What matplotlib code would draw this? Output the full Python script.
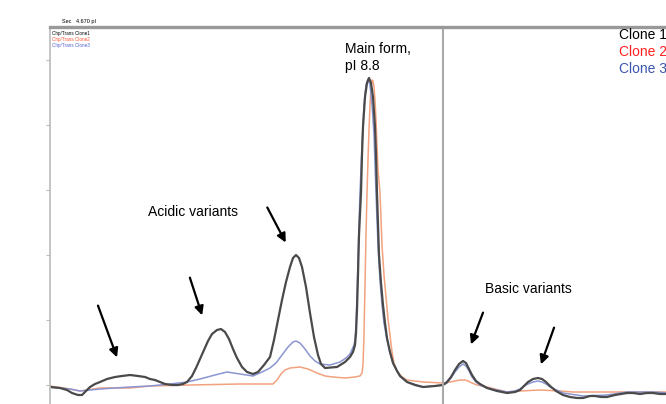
import matplotlib.pyplot as plt

plt.rcParams['font.family'] = ['Liberation Sans', 'DejaVu Sans']

# migration position (arbitrary units) and signal for each clone
clone1_x = [0, 10, 17, 22, 28, 32, 35, 40, 45, 50, 57, 65, 72, 80, 88, 95, 100, 105, 110, 115,
            122, 128, 133, 137, 142, 146, 150, 154, 158, 162, 167, 171, 175, 179, 183, 187, 192,
            197, 203, 208, 214, 220, 224, 228, 232, 236, 240, 243, 246, 249, 252, 256, 260, 264,
            268, 271, 275, 287, 295, 300, 303, 305, 306, 307, 308, 309, 311, 312, 313, 315, 317,
            319, 321, 323, 325, 326, 327, 328, 329, 331, 333, 335, 337, 340, 343, 347, 350, 357,
            365, 373, 385, 393, 397, 401, 405, 409, 413, 416, 419, 422, 426, 430, 437, 447, 457,
            465, 470, 474, 478, 483, 488, 492, 496, 500, 506, 513, 520, 527, 533, 540, 545, 551,
            557, 565, 571, 577, 583, 590, 597, 603, 610, 617]
clone1_y = [-2, -3, -5, -8, -10, -10, -7, -2, 1, 3, 6, 8, 9, 10, 9, 8, 6, 5, 3, 1,
            0, 0, 1, 3, 9, 17, 26, 35, 44, 51, 55, 56, 53, 46, 36, 27, 18,
            13, 11, 13, 20, 28, 45, 65, 85, 103, 118, 127, 130, 127, 118, 98, 72, 48,
            30, 21, 17, 18, 23, 28, 33, 40, 52, 75, 110, 150, 192, 230, 258, 288, 302,
            307, 302, 288, 258, 230, 192, 160, 130, 102, 80, 62, 47, 33, 22, 14, 9, 3,
            0, -2, -1, 0, 3, 8, 15, 21, 24, 22, 16, 10, 4, 1, -3, -6, -8,
            -7, -5, -1, 3, 6, 7, 6, 3, -1, -6, -10, -12, -13, -13, -11, -11, -12,
            -12, -10, -9, -8, -8, -9, -8, -8, -9, -9]

clone2_x = [0, 20, 30, 50, 80, 100, 140, 190, 223, 227, 231, 235, 240, 250, 258, 267, 275, 283,
            295, 305, 310, 312, 313, 314, 315, 316, 317, 318, 319, 320, 321, 322, 323, 324, 325,
            326, 327, 328, 330, 332, 334, 336, 338, 340, 342, 344, 347, 352, 357, 373, 393, 400,
            405, 410, 415, 418, 422, 427, 437, 457, 470, 490, 510, 523, 540, 590, 617]
clone2_y = [-1, -4, -6, -3, -3, -1, 0, 1, 1, 5, 11, 15, 17, 18, 16, 12, 9, 8,
            7, 8, 9, 12, 20, 50, 100, 150, 192, 225, 255, 280, 298, 305, 304, 298, 285,
            265, 240, 215, 192, 140, 110, 88, 66, 50, 33, 22, 14, 8, 5, 3, 2, 3,
            4, 5, 5, 4, 2, 0, -2, -7, -6, -5, -6, -7, -7, -7, -7]

clone3_x = [0, 20, 30, 50, 80, 100, 120, 137, 150, 165, 177, 190, 203, 212, 220, 226, 232, 238,
            243, 246, 250, 255, 260, 265, 270, 280, 290, 296, 300, 304, 305, 306, 307, 308, 309,
            310, 312, 314, 316, 318, 320, 322, 324, 326, 328, 330, 332, 334, 337, 340, 343, 350,
            357, 373, 393, 397, 401, 405, 409, 413, 416, 419, 422, 426, 430, 437, 457, 465, 470,
            474, 478, 483, 488, 492, 496, 500, 513, 533, 557, 577, 603, 617]
clone3_y = [-2, -4, -6, -4, -2, -1, 1, 3, 6, 10, 13, 11, 9, 13, 17, 22, 30, 38,
            43, 44, 42, 36, 29, 24, 21, 20, 23, 27, 31, 40, 45, 60, 90, 125, 160,
            192, 240, 280, 300, 306, 300, 280, 250, 192, 140, 105, 80, 62, 45, 32, 22, 9,
            3, -2, 0, 2, 7, 13, 18, 21, 19, 14, 8, 3, 0, -3, -7, -6, -4,
            -1, 1, 3, 4, 3, 1, -2, -8, -11, -10, -7, -7, -8]

clone_names = ['Clone 1', 'Clone 2', 'Clone 3']
clone_colors = ['black', '#ff2020', '#3a55b0']

fig = plt.figure(figsize=(6.66, 4.04), dpi=100)
ax = fig.add_axes([50 / 666, 0, 616 / 666, 377 / 404])

ax.plot(clone2_x, clone2_y, color='#f2a27e', lw=1.1)
ax.plot(clone3_x, clone3_y, color='#8a95d2', lw=1.1)
ax.plot(clone1_x, clone1_y, color='#4a4a4a', lw=1.6)

ax.set_xlim(0, 616)
ax.set_ylim(-19, 358)
ax.axvline(393, color='#aaaaaa', lw=1.5)

ax.set_xticks([])
ax.set_yticks([0, 65, 130, 195, 260, 325])
ax.set_yticklabels([])
ax.tick_params(axis='y', length=3, color='#bbbbbb', width=0.8)
for side in ['bottom', 'right']:
    ax.spines[side].set_visible(False)
ax.spines['top'].set_color('#999999')
ax.spines['top'].set_linewidth(2.4)
ax.spines['left'].set_color('#bbbbbb')
ax.spines['left'].set_linewidth(1.2)

# labels
ax.text(295, 343, 'Main form,\npI 8.8', fontsize=10, va='top', linespacing=1.25)
ax.text(98, 173, 'Acidic variants', fontsize=10, va='center')
ax.text(435, 96, 'Basic variants', fontsize=10, va='center')

for i, (name, col) in enumerate(zip(clone_names, clone_colors)):
    fig.text(619 / 666, 1 - (35 + 17 * i) / 404, name, color=col, fontsize=10, va='center')

# tiny instrument header / legend
fig.text(62 / 666, 1 - 21 / 404, 'Sec   4.670 pI', fontsize=4, va='center')
for i, col in enumerate(['black', '#ff5030', '#5060d0']):
    fig.text(52 / 666, 1 - (33 + 6 * i) / 404, 'Chp/Trans Clone%d' % (i + 1),
             color=col, fontsize=3.3, va='center')

arrow = dict(arrowstyle='-|>', color='black', lw=1.6, mutation_scale=13)
for tail, head in [((47, 82), (68, 25)), ((139, 110), (153, 67)), ((216, 180), (237, 140)),
                   ((434, 75), (420, 38)), ((505, 60), (490, 18))]:
    ax.annotate('', xy=head, xytext=tail, arrowprops=arrow)

plt.savefig('out.png', dpi=100, facecolor='white')
